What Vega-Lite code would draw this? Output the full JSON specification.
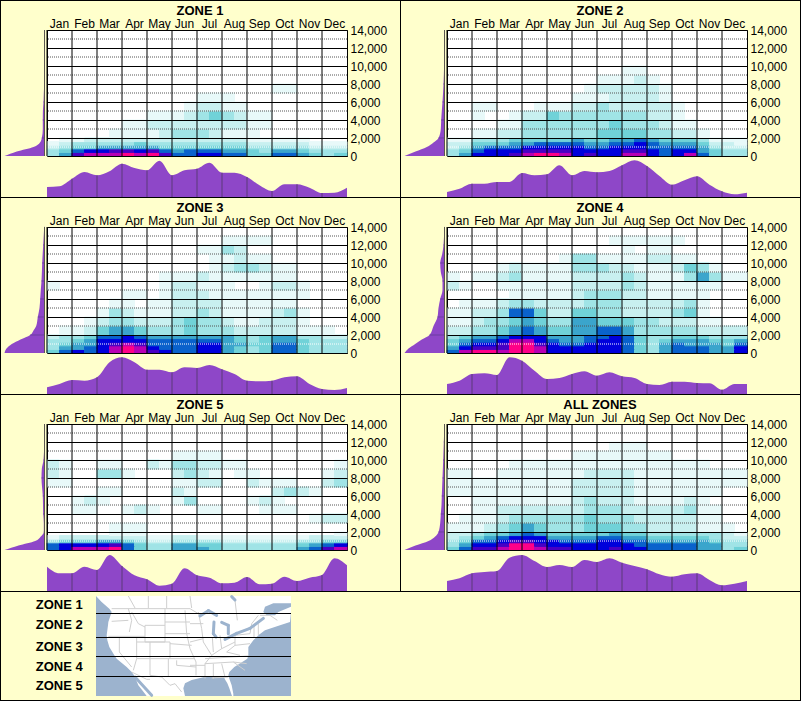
{"$schema":"https://vega.github.io/schema/vega-lite/v6.json","background":"#FFFFCC","padding":0,"autosize":{"type":"pad"},"columns":9,"spacing":0,"bounds":"flush","align":"each",
"config":{"numberFormat":",","view":{"stroke":null},"scale":{"round":false},"range":{"ordinal":["#E8F9F9","#C8F0F0","#A0E4E6","#70D2D8","#3BA5CC","#0A62CC","#0000DC","#4800C4","#B800B4","#FF0088"]},"axis":{"labelFont":"Liberation Sans","labelFontSize":12,"labelColor":"#000","domain":false,"ticks":false,"gridColor":"#000","gridOpacity":1},"title":{"font":"Liberation Sans","fontSize":13,"fontWeight":"bold","color":"#000","anchor":"middle","offset":-1.4,"dx":3}},
"datasets":{"none":[],
"months":[{"m":"Jan"},{"m":"Feb"},{"m":"Mar"},{"m":"Apr"},{"m":"May"},{"m":"Jun"},{"m":"Jul"},{"m":"Aug"},{"m":"Sep"},{"m":"Oct"},{"m":"Nov"},{"m":"Dec"}],
"dark":[{"v":3000},{"v":5000},{"v":7000},{"v":9000},{"v":11000},{"v":13000}],
"white":[{"v":1000}],
"heat":[
{"z":1,"a":0,"b":400,"c":[3,5,8,9,9,9,10,9,10,8,6,6,7,7,6,6,4,4,6,6,5,4,3,4]},
{"z":1,"a":400,"b":800,"c":[3,4,6,7,7,8,8,7,8,6,5,6,6,6,5,5,4,3,5,5,4,3,3,3]},
{"z":1,"a":800,"b":1200,"c":[2,3,4,4,5,5,5,5,5,4,4,4,4,4,4,4,3,3,3,3,3,2,2,2]},
{"z":1,"a":1200,"b":1600,"c":[1,2,3,3,3,3,3,4,3,3,3,3,3,3,3,3,2,2,2,2,2,1,1,1]},
{"z":1,"a":1600,"b":2000,"c":[0,1,1,2,2,2,2,2,2,2,2,2,2,2,2,2,1,1,1,1,1,0,0,0]},
{"z":1,"a":2000,"b":3000,"c":[0,0,0,0,0,1,1,1,1,2,3,3,3,2,1,1,1,0,0,0,0,0,0,0]},
{"z":1,"a":3000,"b":4000,"c":[0,0,0,0,0,0,1,1,2,2,2,2,2,2,2,2,1,1,0,0,0,0,0,0]},
{"z":1,"a":4000,"b":5000,"c":[0,0,0,0,0,0,0,0,1,1,1,2,3,4,3,2,1,1,0,0,0,0,0,0]},
{"z":1,"a":5000,"b":6000,"c":[0,0,0,0,0,0,0,0,0,0,0,1,2,2,1,1,0,0,0,0,0,0,0,0]},
{"z":1,"a":6000,"b":7000,"c":[0,0,0,0,0,0,0,0,0,0,0,0,1,1,1,0,0,0,0,0,0,0,0,0]},
{"z":1,"a":7000,"b":8000,"c":[0,0,0,0,0,0,0,0,0,0,0,0,0,0,0,0,0,0,1,1,0,0,0,0]},
{"z":2,"a":0,"b":400,"c":[3,5,7,7,7,8,9,10,10,9,7,8,7,7,9,9,7,6,7,9,6,4,3,3]},
{"z":2,"a":400,"b":800,"c":[3,4,6,7,7,7,8,8,8,8,7,7,7,7,8,8,7,6,7,7,5,4,3,3]},
{"z":2,"a":800,"b":1200,"c":[2,3,5,6,6,6,7,7,7,7,7,6,6,7,7,7,6,6,6,6,5,3,2,2]},
{"z":2,"a":1200,"b":1600,"c":[2,2,4,4,4,5,5,6,6,6,6,5,5,6,6,7,6,5,5,5,4,2,2,1]},
{"z":2,"a":1600,"b":2000,"c":[1,1,3,3,3,4,4,4,4,4,5,4,4,5,5,6,5,4,4,4,3,1,1,1]},
{"z":2,"a":2000,"b":3000,"c":[0,0,1,1,2,2,3,3,3,3,3,3,4,4,4,4,3,3,2,2,1,0,0,0]},
{"z":2,"a":3000,"b":4000,"c":[0,0,0,0,1,1,3,3,3,3,3,3,3,4,3,3,3,2,1,1,0,0,0,0]},
{"z":2,"a":4000,"b":5000,"c":[0,0,1,0,0,1,2,2,4,3,3,3,3,3,3,3,2,2,1,0,0,0,0,0]},
{"z":2,"a":5000,"b":6000,"c":[0,0,1,1,0,0,0,1,1,1,2,2,3,2,2,2,2,2,1,0,0,0,0,0]},
{"z":2,"a":6000,"b":7000,"c":[0,0,0,0,0,0,0,0,0,0,1,1,1,2,2,2,2,1,0,0,0,0,0,0]},
{"z":2,"a":7000,"b":8000,"c":[0,0,0,0,0,0,0,0,0,0,0,1,2,2,2,2,2,1,0,0,0,0,0,0]},
{"z":2,"a":8000,"b":9000,"c":[0,0,0,0,0,0,0,0,0,0,0,0,1,1,1,2,1,0,0,0,0,0,0,0]},
{"z":2,"a":9000,"b":10000,"c":[0,0,0,0,0,0,0,0,0,0,0,0,0,0,1,1,0,0,0,0,0,0,0,0]},
{"z":3,"a":0,"b":400,"c":[4,6,7,6,7,9,10,9,8,7,6,6,7,7,5,4,3,4,6,6,4,3,3,3]},
{"z":3,"a":400,"b":800,"c":[3,5,5,6,7,9,10,9,7,6,6,6,7,7,5,4,3,4,6,6,4,3,3,3]},
{"z":3,"a":800,"b":1200,"c":[3,4,5,5,7,8,9,8,6,6,6,6,7,7,5,5,4,4,6,6,4,3,3,3]},
{"z":3,"a":1200,"b":1600,"c":[3,3,4,5,7,7,7,7,6,6,6,6,6,6,5,4,3,4,5,5,4,3,3,3]},
{"z":3,"a":1600,"b":2000,"c":[2,3,3,4,6,6,7,6,5,5,5,5,5,5,5,4,3,4,5,5,3,3,2,2]},
{"z":3,"a":2000,"b":3000,"c":[0,1,1,2,4,5,5,4,3,3,3,4,3,3,3,2,2,2,2,2,1,1,1,0]},
{"z":3,"a":3000,"b":4000,"c":[0,0,0,1,2,3,3,2,2,2,3,4,3,3,2,1,1,2,2,2,1,0,0,0]},
{"z":3,"a":4000,"b":5000,"c":[0,0,0,0,1,3,2,1,1,1,2,2,3,2,1,1,1,1,2,3,1,0,0,0]},
{"z":3,"a":5000,"b":6000,"c":[0,0,0,0,0,1,1,0,1,1,2,2,2,2,1,1,1,1,1,1,0,0,0,0]},
{"z":3,"a":6000,"b":7000,"c":[0,0,0,0,0,0,1,1,0,1,2,2,2,1,1,1,1,1,1,1,1,0,0,0]},
{"z":3,"a":7000,"b":8000,"c":[1,0,0,0,0,0,0,0,0,1,2,2,1,1,1,0,0,1,2,2,1,0,0,0]},
{"z":3,"a":8000,"b":9000,"c":[0,0,0,0,0,0,0,0,0,1,1,1,2,1,1,1,1,1,1,1,0,0,0,0]},
{"z":3,"a":9000,"b":10000,"c":[0,0,0,0,0,0,0,0,0,0,0,0,0,1,2,3,3,2,1,1,0,0,0,0]},
{"z":3,"a":10000,"b":11000,"c":[0,0,0,0,0,0,0,0,0,0,0,0,0,1,1,2,1,1,0,0,0,0,0,0]},
{"z":3,"a":11000,"b":12000,"c":[0,0,0,0,0,0,0,0,0,0,0,0,1,1,3,2,0,0,0,0,0,0,0,0]},
{"z":3,"a":12000,"b":13000,"c":[0,0,0,0,0,0,0,0,0,0,0,0,0,0,1,1,1,1,0,0,0,0,0,0]},
{"z":4,"a":0,"b":400,"c":[6,9,10,10,9,10,10,9,7,7,7,7,7,7,6,4,3,5,6,6,6,5,5,7]},
{"z":4,"a":400,"b":800,"c":[5,7,8,8,8,10,10,9,7,7,7,7,7,7,6,4,3,5,6,6,6,5,5,7]},
{"z":4,"a":800,"b":1200,"c":[4,6,7,7,8,10,10,8,7,6,6,7,7,7,6,4,3,5,6,5,5,5,4,6]},
{"z":4,"a":1200,"b":1600,"c":[4,5,6,6,7,9,9,7,6,5,5,6,7,7,6,4,3,4,5,5,5,4,4,5]},
{"z":4,"a":1600,"b":2000,"c":[3,4,5,5,6,7,7,7,5,5,5,6,6,7,6,4,3,3,4,4,4,3,3,3]},
{"z":4,"a":2000,"b":3000,"c":[2,2,3,3,4,5,6,5,4,4,5,5,6,6,5,3,3,3,3,3,2,2,2,2]},
{"z":4,"a":3000,"b":4000,"c":[1,1,2,3,3,4,5,4,3,3,5,5,4,4,4,3,3,2,2,2,1,1,0,0]},
{"z":4,"a":4000,"b":5000,"c":[1,1,2,2,3,6,6,4,2,2,4,4,3,3,2,2,2,2,3,4,1,0,0,0]},
{"z":4,"a":5000,"b":6000,"c":[0,1,1,1,2,3,3,2,2,2,2,3,3,3,2,2,2,2,2,3,1,0,0,0]},
{"z":4,"a":6000,"b":7000,"c":[0,0,0,0,0,1,1,1,1,1,2,3,3,3,2,2,1,1,1,1,1,0,0,0]},
{"z":4,"a":7000,"b":8000,"c":[2,1,0,0,1,1,1,1,1,1,2,2,2,2,3,2,1,1,1,1,1,1,0,0]},
{"z":4,"a":8000,"b":9000,"c":[1,0,1,1,2,3,1,1,1,1,2,2,2,2,3,2,1,1,1,3,5,3,1,1]},
{"z":4,"a":9000,"b":10000,"c":[0,0,0,0,1,2,1,1,1,1,3,3,3,2,2,1,1,1,2,4,3,1,0,0]},
{"z":4,"a":10000,"b":11000,"c":[0,0,0,0,0,0,0,0,0,1,3,3,1,1,1,1,2,2,1,1,0,0,0,0]},
{"z":4,"a":11000,"b":12000,"c":[0,0,0,0,0,0,0,0,0,0,0,0,0,0,1,0,1,1,0,0,0,0,0,0]},
{"z":4,"a":12000,"b":13000,"c":[0,0,0,0,0,0,0,0,0,0,0,0,0,1,1,1,1,1,1,0,0,0,0,0]},
{"z":5,"a":0,"b":400,"c":[6,7,9,9,9,10,6,4,3,3,5,5,5,4,3,3,3,3,3,3,5,6,8,9]},
{"z":5,"a":400,"b":800,"c":[6,7,7,7,7,8,6,4,3,3,5,5,4,4,3,3,3,3,3,3,4,5,6,7]},
{"z":5,"a":800,"b":1200,"c":[3,4,4,4,5,5,4,3,2,2,3,3,3,3,2,2,2,2,2,2,3,3,4,4]},
{"z":5,"a":1200,"b":1600,"c":[1,2,2,2,2,2,2,2,1,1,2,2,1,1,1,1,1,1,1,1,1,2,2,2]},
{"z":5,"a":1600,"b":2000,"c":[0,0,0,0,0,1,1,1,0,0,0,0,0,0,0,0,0,0,0,0,0,0,0,1]},
{"z":5,"a":2000,"b":3000,"c":[0,0,0,0,0,1,1,1,0,0,0,0,0,0,0,0,0,0,0,0,0,0,0,0]},
{"z":5,"a":3000,"b":4000,"c":[0,0,0,0,0,0,0,0,0,0,0,0,0,0,0,0,0,0,0,0,0,1,2,2]},
{"z":5,"a":4000,"b":5000,"c":[0,0,1,1,0,0,1,2,1,0,0,0,1,1,0,0,0,1,1,1,0,0,0,0]},
{"z":5,"a":5000,"b":6000,"c":[0,0,1,2,1,0,0,0,0,0,1,3,0,0,0,0,1,2,1,0,0,0,0,0]},
{"z":5,"a":6000,"b":7000,"c":[0,0,0,0,1,1,0,0,0,0,2,1,0,0,0,0,0,0,2,3,2,1,0,0]},
{"z":5,"a":7000,"b":8000,"c":[1,1,0,0,0,0,0,0,0,0,1,1,2,2,0,0,2,1,1,1,0,0,2,3]},
{"z":5,"a":8000,"b":9000,"c":[2,1,0,0,3,3,1,0,0,0,2,3,2,1,0,1,1,0,0,0,0,0,1,2]},
{"z":5,"a":9000,"b":10000,"c":[2,1,0,0,1,1,0,0,2,1,3,3,2,2,1,1,0,0,0,0,0,0,0,1]},
{"z":5,"a":10000,"b":11000,"c":[0,0,0,0,0,0,0,0,0,0,1,1,1,1,0,0,0,0,0,0,0,0,0,0]},
{"z":6,"a":0,"b":400,"c":[4,6,8,8,9,10,10,9,8,8,7,7,7,8,7,7,6,6,6,6,5,5,3,4]},
{"z":6,"a":400,"b":800,"c":[3,5,7,7,8,10,10,8,7,7,7,7,7,7,7,6,6,6,6,6,5,5,3,3]},
{"z":6,"a":800,"b":1200,"c":[3,4,6,6,7,8,8,7,7,6,6,6,7,7,6,6,5,5,5,5,5,4,3,3]},
{"z":6,"a":1200,"b":1600,"c":[2,3,4,5,6,7,7,7,5,5,5,5,6,6,5,5,4,4,4,4,4,3,2,2]},
{"z":6,"a":1600,"b":2000,"c":[2,2,3,4,4,5,6,5,4,4,4,4,4,5,4,4,3,3,3,3,3,3,2,1]},
{"z":6,"a":2000,"b":3000,"c":[1,1,1,2,3,4,5,4,3,3,3,4,4,4,3,3,2,2,2,2,1,1,1,0]},
{"z":6,"a":3000,"b":4000,"c":[0,1,1,1,2,3,3,3,3,3,3,4,3,3,3,2,2,2,2,2,1,1,0,0]},
{"z":6,"a":4000,"b":5000,"c":[0,0,1,1,2,2,2,2,2,2,2,3,3,3,2,2,2,2,2,3,1,1,0,0]},
{"z":6,"a":5000,"b":6000,"c":[0,0,1,1,1,1,1,1,1,1,2,3,2,2,2,1,1,1,1,2,1,0,0,0]},
{"z":6,"a":6000,"b":7000,"c":[1,1,1,1,1,1,1,1,1,1,2,2,2,2,2,1,1,1,1,1,1,1,0,0]},
{"z":6,"a":7000,"b":8000,"c":[1,1,1,1,1,1,1,1,1,1,2,2,2,2,2,1,1,1,1,1,1,1,1,1]},
{"z":6,"a":8000,"b":9000,"c":[1,1,0,0,1,1,1,1,1,1,1,2,2,2,2,1,1,1,1,1,1,1,1,1]},
{"z":6,"a":9000,"b":10000,"c":[0,0,0,0,0,1,1,1,1,1,1,1,1,1,1,1,1,1,1,1,1,0,0,0]},
{"z":6,"a":10000,"b":11000,"c":[0,0,0,0,0,0,0,0,0,0,1,1,1,1,1,1,1,1,0,0,0,0,0,0]},
{"z":6,"a":11000,"b":12000,"c":[0,0,0,0,0,0,0,0,0,0,0,0,0,1,1,1,0,0,0,0,0,0,0,0]}
],
"left":[
{"z":1,"v":0,"w":40},{"z":1,"v":500,"w":27.7},{"z":1,"v":1000,"w":11},{"z":1,"v":1500,"w":4.5},{"z":1,"v":2000,"w":2.7},{"z":1,"v":3000,"w":1.7},{"z":1,"v":4000,"w":1.7},{"z":1,"v":5000,"w":1.6},{"z":1,"v":6000,"w":1},{"z":1,"v":7000,"w":0.7},{"z":1,"v":8000,"w":0.3},{"z":1,"v":10000,"w":0.1},{"z":1,"v":14000,"w":0},
{"z":2,"v":0,"w":40},{"z":2,"v":500,"w":29},{"z":2,"v":1000,"w":17.7},{"z":2,"v":1500,"w":11},{"z":2,"v":2000,"w":6},{"z":2,"v":3000,"w":3.7},{"z":2,"v":4000,"w":3.3},{"z":2,"v":5000,"w":2.7},{"z":2,"v":6000,"w":2},{"z":2,"v":8000,"w":1},{"z":2,"v":10000,"w":0.4},{"z":2,"v":12000,"w":0.1},{"z":2,"v":14000,"w":0},
{"z":3,"v":0,"w":40},{"z":3,"v":500,"w":38},{"z":3,"v":1000,"w":32.7},{"z":3,"v":1500,"w":24},{"z":3,"v":2000,"w":14.3},{"z":3,"v":2500,"w":11},{"z":3,"v":3000,"w":8.3},{"z":3,"v":4000,"w":6.7},{"z":3,"v":5000,"w":5},{"z":3,"v":6000,"w":4.3},{"z":3,"v":7000,"w":3.7},{"z":3,"v":8000,"w":3},{"z":3,"v":10000,"w":2.3},{"z":3,"v":12000,"w":1.3},{"z":3,"v":14000,"w":0.3},
{"z":4,"v":0,"w":40},{"z":4,"v":500,"w":36},{"z":4,"v":1000,"w":29.3},{"z":4,"v":1500,"w":22.7},{"z":4,"v":2000,"w":15},{"z":4,"v":3000,"w":11},{"z":4,"v":4000,"w":7},{"z":4,"v":5000,"w":6},{"z":4,"v":6000,"w":4.3},{"z":4,"v":7000,"w":2},{"z":4,"v":8000,"w":2},{"z":4,"v":9000,"w":3.7},{"z":4,"v":10000,"w":4.3},{"z":4,"v":11000,"w":2.3},{"z":4,"v":12000,"w":1},{"z":4,"v":14000,"w":0.2},
{"z":5,"v":0,"w":40},{"z":5,"v":500,"w":26},{"z":5,"v":1000,"w":9.3},{"z":5,"v":1500,"w":3.7},{"z":5,"v":2000,"w":0.7},{"z":5,"v":3000,"w":0.7},{"z":5,"v":4000,"w":1.3},{"z":5,"v":6000,"w":1.7},{"z":5,"v":8000,"w":3},{"z":5,"v":9000,"w":2.7},{"z":5,"v":10000,"w":1},{"z":5,"v":12000,"w":0.2},{"z":5,"v":14000,"w":0},
{"z":6,"v":0,"w":40},{"z":6,"v":500,"w":29},{"z":6,"v":1000,"w":16},{"z":6,"v":1500,"w":9.3},{"z":6,"v":2000,"w":6},{"z":6,"v":3000,"w":4.3},{"z":6,"v":4000,"w":3.7},{"z":6,"v":5000,"w":3},{"z":6,"v":6000,"w":2.7},{"z":6,"v":8000,"w":2},{"z":6,"v":10000,"w":1.3},{"z":6,"v":12000,"w":0.7},{"z":6,"v":14000,"w":0}
],
"under":[
{"z":1,"m":0,"h":10},{"z":1,"m":0.5,"h":10.7},{"z":1,"m":1,"h":18.3},{"z":1,"m":1.5,"h":25},{"z":1,"m":2,"h":21.7},{"z":1,"m":2.5,"h":25.7},{"z":1,"m":3,"h":33.3},{"z":1,"m":3.5,"h":29},{"z":1,"m":4,"h":26.7},{"z":1,"m":4.5,"h":36.3},{"z":1,"m":5,"h":21.7},{"z":1,"m":5.5,"h":26.7},{"z":1,"m":6,"h":28.3},{"z":1,"m":6.5,"h":34.3},{"z":1,"m":7,"h":24.3},{"z":1,"m":7.5,"h":24.3},{"z":1,"m":8,"h":20},{"z":1,"m":8.5,"h":11.7},{"z":1,"m":9,"h":6},{"z":1,"m":9.5,"h":12.7},{"z":1,"m":10,"h":12.7},{"z":1,"m":10.5,"h":9.3},{"z":1,"m":11,"h":4},{"z":1,"m":11.5,"h":4.3},{"z":1,"m":12,"h":9.3},
{"z":2,"m":0,"h":5},{"z":2,"m":0.5,"h":8.3},{"z":2,"m":1,"h":13.3},{"z":2,"m":1.5,"h":13.3},{"z":2,"m":2,"h":15},{"z":2,"m":2.5,"h":15},{"z":2,"m":3,"h":24},{"z":2,"m":3.5,"h":21.7},{"z":2,"m":4,"h":22.7},{"z":2,"m":4.5,"h":31.7},{"z":2,"m":5,"h":21.7},{"z":2,"m":5.5,"h":26},{"z":2,"m":6,"h":24.7},{"z":2,"m":6.5,"h":26},{"z":2,"m":7,"h":31.7},{"z":2,"m":7.5,"h":36.7},{"z":2,"m":8,"h":31},{"z":2,"m":8.5,"h":21},{"z":2,"m":9,"h":12.3},{"z":2,"m":9.5,"h":16.7},{"z":2,"m":10,"h":20.7},{"z":2,"m":10.5,"h":12.3},{"z":2,"m":11,"h":5.7},{"z":2,"m":11.5,"h":2.7},{"z":2,"m":12,"h":4.3},
{"z":3,"m":0,"h":6.7},{"z":3,"m":0.5,"h":10},{"z":3,"m":1,"h":14},{"z":3,"m":1.5,"h":13.3},{"z":3,"m":2,"h":16.7},{"z":3,"m":2.5,"h":31.7},{"z":3,"m":3,"h":36.7},{"z":3,"m":3.5,"h":31.7},{"z":3,"m":4,"h":24.3},{"z":3,"m":4.5,"h":24.3},{"z":3,"m":5,"h":21.7},{"z":3,"m":5.5,"h":26.7},{"z":3,"m":6,"h":26},{"z":3,"m":6.5,"h":29},{"z":3,"m":7,"h":24.7},{"z":3,"m":7.5,"h":20},{"z":3,"m":8,"h":13.3},{"z":3,"m":8.5,"h":12.7},{"z":3,"m":9,"h":13.3},{"z":3,"m":9.5,"h":16.7},{"z":3,"m":10,"h":17.7},{"z":3,"m":10.5,"h":10},{"z":3,"m":11,"h":5},{"z":3,"m":11.5,"h":4},{"z":3,"m":12,"h":6},
{"z":4,"m":0,"h":10},{"z":4,"m":0.5,"h":13.3},{"z":4,"m":1,"h":20},{"z":4,"m":1.5,"h":20.7},{"z":4,"m":2,"h":19},{"z":4,"m":2.5,"h":36.7},{"z":4,"m":3,"h":33.3},{"z":4,"m":3.5,"h":23.3},{"z":4,"m":4,"h":15},{"z":4,"m":4.5,"h":16},{"z":4,"m":5,"h":20},{"z":4,"m":5.5,"h":22.7},{"z":4,"m":6,"h":18.3},{"z":4,"m":6.5,"h":21.7},{"z":4,"m":7,"h":17.7},{"z":4,"m":7.5,"h":16},{"z":4,"m":8,"h":10},{"z":4,"m":8.5,"h":9},{"z":4,"m":9,"h":12.3},{"z":4,"m":9.5,"h":12.3},{"z":4,"m":10,"h":11},{"z":4,"m":10.5,"h":10.7},{"z":4,"m":11,"h":4.3},{"z":4,"m":11.5,"h":10},{"z":4,"m":12,"h":10},
{"z":5,"m":0,"h":24.3},{"z":5,"m":0.5,"h":17.7},{"z":5,"m":1,"h":17.7},{"z":5,"m":1.5,"h":24.3},{"z":5,"m":2,"h":21},{"z":5,"m":2.5,"h":36},{"z":5,"m":3,"h":25},{"z":5,"m":3.5,"h":15.7},{"z":5,"m":4,"h":11.7},{"z":5,"m":4.5,"h":5.3},{"z":5,"m":5,"h":7.3},{"z":5,"m":5.5,"h":22.7},{"z":5,"m":6,"h":15.7},{"z":5,"m":6.5,"h":13.3},{"z":5,"m":7,"h":7.7},{"z":5,"m":7.5,"h":8.3},{"z":5,"m":8,"h":14},{"z":5,"m":8.5,"h":6.7},{"z":5,"m":9,"h":7.3},{"z":5,"m":9.5,"h":14.3},{"z":5,"m":10,"h":10},{"z":5,"m":10.5,"h":13.3},{"z":5,"m":11,"h":16},{"z":5,"m":11.5,"h":32.7},{"z":5,"m":12,"h":25.7},
{"z":6,"m":0,"h":10},{"z":6,"m":0.5,"h":12.7},{"z":6,"m":1,"h":17.7},{"z":6,"m":1.5,"h":19},{"z":6,"m":2,"h":20},{"z":6,"m":2.5,"h":33.3},{"z":6,"m":3,"h":36},{"z":6,"m":3.5,"h":30},{"z":6,"m":4,"h":24},{"z":6,"m":4.5,"h":26},{"z":6,"m":5,"h":24},{"z":6,"m":5.5,"h":31},{"z":6,"m":6,"h":29},{"z":6,"m":6.5,"h":32.7},{"z":6,"m":7,"h":28.3},{"z":6,"m":7.5,"h":25},{"z":6,"m":8,"h":21.7},{"z":6,"m":8.5,"h":16.7},{"z":6,"m":9,"h":14.3},{"z":6,"m":9.5,"h":16.7},{"z":6,"m":10,"h":17.7},{"z":6,"m":10.5,"h":11},{"z":6,"m":11,"h":5.7},{"z":6,"m":11.5,"h":7.3},{"z":6,"m":12,"h":10}
],
"land":[{"y":18,"x":288,"u":873},{"y":36,"x":305,"u":873},{"y":56,"x":328,"u":873},{"y":66,"x":335,"u":873},{"y":96,"x":325,"u":870},{"y":106,"x":324,"u":840},{"y":121,"x":322,"u":795},{"y":136,"x":320,"u":775},{"y":151,"x":322,"u":760},{"y":171,"x":328,"u":745},{"y":196,"x":343,"u":745},{"y":206,"x":350,"u":742},{"y":231,"x":380,"u":703},{"y":246,"x":395,"u":688},{"y":256,"x":402,"u":685},{"y":266,"x":407,"u":688},{"y":286,"x":415,"u":695},{"y":311,"x":435,"u":700},{"y":318,"x":440,"u":700}],
"gulf":[{"y":260,"x":640,"u":640},{"y":262,"x":610,"u":672},{"y":270,"x":575,"u":676},{"y":280,"x":555,"u":682},{"y":295,"x":550,"u":688},{"y":318,"x":555,"u":696}],
"stlawrence":[{"y":40,"x":820,"u":873},{"y":50,"x":795,"u":873},{"y":66,"x":790,"u":835},{"y":76,"x":800,"u":825}],
"lakes":[{"x":600,"y":78,"u":625,"v":62},{"x":625,"y":62,"u":650,"v":76},{"x":642,"y":96,"u":640,"v":131},{"x":640,"y":131,"u":648,"v":141},{"x":665,"y":97,"u":685,"v":106},{"x":685,"y":106,"u":685,"v":131},{"x":675,"y":148,"u":710,"v":130},{"x":710,"y":130,"u":750,"v":115},{"x":750,"y":115,"u":790,"v":85},{"x":695,"y":20,"u":705,"v":30},{"x":405,"y":261,"u":455,"v":316}],
"borders":[{"x":335,"y":56,"u":570,"v":56},{"x":570,"y":56,"u":600,"v":74},{"x":385,"y":18,"u":405,"v":54},{"x":445,"y":18,"u":445,"v":54},{"x":500,"y":18,"u":500,"v":54},{"x":570,"y":18,"u":575,"v":54},{"x":335,"y":94,"u":385,"v":91},{"x":385,"y":56,"u":395,"v":91},{"x":395,"y":91,"u":388,"v":126},{"x":325,"y":139,"u":435,"v":139},{"x":410,"y":141,"u":410,"v":206},{"x":358,"y":141,"u":358,"v":186},{"x":358,"y":186,"u":395,"v":231},{"x":395,"y":66,"u":415,"v":101},{"x":415,"y":101,"u":435,"v":111},{"x":435,"y":106,"u":495,"v":106},{"x":435,"y":106,"u":435,"v":156},{"x":435,"y":156,"u":495,"v":156},{"x":495,"y":56,"u":495,"v":156},{"x":410,"y":156,"u":510,"v":156},{"x":450,"y":156,"u":450,"v":206},{"x":510,"y":156,"u":510,"v":206},{"x":410,"y":206,"u":510,"v":206},{"x":450,"y":206,"u":450,"v":256},{"x":505,"y":206,"u":505,"v":261},{"x":410,"y":206,"u":400,"v":241},{"x":395,"y":246,"u":440,"v":268},{"x":440,"y":268,"u":450,"v":268},{"x":450,"y":256,"u":485,"v":261},{"x":485,"y":261,"u":510,"v":286},{"x":510,"y":286,"u":525,"v":281},{"x":525,"y":281,"u":545,"v":306},{"x":495,"y":96,"u":570,"v":96},{"x":495,"y":131,"u":570,"v":131},{"x":510,"y":161,"u":575,"v":166},{"x":510,"y":206,"u":585,"v":206},{"x":530,"y":211,"u":530,"v":226},{"x":530,"y":226,"u":588,"v":231},{"x":555,"y":61,"u":560,"v":131},{"x":560,"y":131,"u":570,"v":176},{"x":570,"y":176,"u":588,"v":216},{"x":588,"y":216,"u":588,"v":256},{"x":570,"y":101,"u":610,"v":101},{"x":570,"y":156,"u":610,"v":146},{"x":595,"y":66,"u":605,"v":116},{"x":605,"y":116,"u":610,"v":156},{"x":610,"y":156,"u":635,"v":196},{"x":635,"y":196,"u":615,"v":221},{"x":615,"y":221,"u":615,"v":266},{"x":637,"y":141,"u":640,"v":186},{"x":660,"y":136,"u":665,"v":176},{"x":635,"y":196,"u":665,"v":176},{"x":665,"y":176,"u":705,"v":156},{"x":705,"y":131,"u":705,"v":166},{"x":705,"y":136,"u":750,"v":131},{"x":705,"y":166,"u":750,"v":161},{"x":615,"y":206,"u":745,"v":198},{"x":615,"y":221,"u":700,"v":216},{"x":700,"y":216,"u":740,"v":221},{"x":640,"y":221,"u":640,"v":266},{"x":665,"y":221,"u":675,"v":261},{"x":700,"y":216,"u":735,"v":241},{"x":635,"y":264,"u":685,"v":261},{"x":570,"y":226,"u":615,"v":226},{"x":705,"y":166,"u":680,"v":186},{"x":680,"y":186,"u":720,"v":196},{"x":750,"y":131,"u":755,"v":101},{"x":755,"y":101,"u":775,"v":76},{"x":780,"y":76,"u":810,"v":76},{"x":810,"y":76,"u":832,"v":91},{"x":775,"y":101,"u":775,"v":136},{"x":762,"y":106,"u":762,"v":141},{"x":705,"y":31,"u":712,"v":91}],
"zonelines":[{"x":288,"u":873,"y":70.5,"v":70.5},{"x":288,"u":873,"y":142.5,"v":142.5},{"x":288,"u":873,"y":199.5,"v":199.5},{"x":288,"u":873,"y":259.5,"v":259.5}],
"names":[{"t":"ZONE 1","x":248,"y":46},{"t":"ZONE 2","x":248,"y":104},{"t":"ZONE 3","x":248,"y":172},{"t":"ZONE 4","x":248,"y":230},{"t":"ZONE 5","x":248,"y":288}]
},
"concat":[
{"data":{"name":"none"},"mark":"point","width":1,"height":1,"view":{"fill":"#000"}},{"data":{"name":"none"},"mark":"point","width":46,"height":1,"view":{"fill":"#000"}},{"data":{"name":"none"},"mark":"point","width":300,"height":1,"view":{"fill":"#000"}},{"data":{"name":"none"},"mark":"point","width":53,"height":1,"view":{"fill":"#000"}},{"data":{"name":"none"},"mark":"point","width":1,"height":1,"view":{"fill":"#000"}},{"data":{"name":"none"},"mark":"point","width":46,"height":1,"view":{"fill":"#000"}},{"data":{"name":"none"},"mark":"point","width":300,"height":1,"view":{"fill":"#000"}},{"data":{"name":"none"},"mark":"point","width":53,"height":1,"view":{"fill":"#000"}},{"data":{"name":"none"},"mark":"point","width":1,"height":1,"view":{"fill":"#000"}},
{"data":{"name":"none"},"mark":"point","width":1,"height":29,"view":{"fill":"#000"}},{"data":{"name":"none"},"mark":"point","width":1,"height":1},{"data":{"name":"none"},"mark":"point","width":1,"height":1},{"data":{"name":"none"},"mark":"point","width":1,"height":1},{"data":{"name":"none"},"mark":"point","width":1,"height":29,"view":{"fill":"#000"}},{"data":{"name":"none"},"mark":"point","width":1,"height":1},{"data":{"name":"none"},"mark":"point","width":1,"height":1},{"data":{"name":"none"},"mark":"point","width":1,"height":1},{"data":{"name":"none"},"mark":"point","width":1,"height":29,"view":{"fill":"#000"}},
{"data":{"name":"none"},"mark":"point","width":1,"height":126,"view":{"fill":"#000"}},
{"width":46,"height":126,"data":{"name":"left"},"transform":[{"filter":"datum.z==1"}],"layer":[{"mark":{"type":"area","orient":"horizontal","interpolate":"monotone","color":"#8E47C8"},"encoding":{"x":{"field":"w","type":"quantitative","stack":null,"axis":null,"scale":{"domain":[43.5,-2.5],"nice":false}},"x2":{"datum":0},"y":{"field":"v","type":"quantitative","axis":null,"scale":{"domain":[0,14000]}}}},{"transform":[{"filter":"datum.v>0&&datum.v%2000==0"}],"mark":{"type":"rule","color":"#6a3fa0"},"encoding":{"x":{"field":"w","type":"quantitative","axis":null},"x2":{"datum":0},"y":{"field":"v","type":"quantitative","axis":null}}},{"mark":{"type":"rule","color":"#5b5650"},"encoding":{"x":{"datum":0,"type":"quantitative","axis":null}}}]},
{"width":300,"height":126,"view":{"fill":"#fff","stroke":"#000"},"title":"ZONE 1","resolve":{"scale":{"x":"independent"}},"layer":[{"data":{"name":"heat"},"transform":[{"filter":"datum.z==1"},{"flatten":["c"]},{"window":[{"op":"row_number","as":"i"}],"groupby":["a"]},{"filter":"datum.c>0"}],"mark":{"type":"rect","strokeWidth":1},"encoding":{"x":{"field":"i","type":"ordinal","axis":null,"scale":{"paddingInner":0,"paddingOuter":0}},"y":{"field":"a","type":"quantitative","scale":{"domain":[0,14000]},"axis":{"title":null,"orient":"right","values":[0,2000,4000,6000,8000,10000,12000,14000],"labelExpr":"format(datum.value,',')","grid":true,"zindex":1,"labelPadding":3}},"y2":{"field":"b"},"color":{"field":"c","type":"ordinal","scale":{"domain":[1,2,3,4,5,6,7,8,9,10]},"legend":null},"stroke":{"field":"c","type":"ordinal","scale":{"domain":[1,2,3,4,5,6,7,8,9,10]},"legend":null}}},{"data":{"name":"dark"},"mark":{"type":"rule","stroke":"#555","strokeDash":[1,1]},"encoding":{"y":{"field":"v","type":"quantitative","axis":{"title":null,"orient":"right","values":[0,2000,4000,6000,8000,10000,12000,14000],"labelExpr":"format(datum.value,',')","grid":true,"zindex":1,"labelPadding":3}}}},{"data":{"name":"white"},"mark":{"type":"rule","stroke":"#fff","strokeDash":[1,1]},"encoding":{"y":{"field":"v","type":"quantitative","axis":{"title":null,"orient":"right","values":[0,2000,4000,6000,8000,10000,12000,14000],"labelExpr":"format(datum.value,',')","grid":true,"zindex":1,"labelPadding":3}}}},{"data":{"name":"months"},"mark":{"type":"rule","stroke":"#000"},"encoding":{"x":{"field":"m","type":"nominal","sort":null,"bandPosition":0,"scale":{"paddingInner":0,"paddingOuter":0},"axis":{"title":null,"orient":"top","labelAngle":0,"labelPadding":0}}}}]},
{"data":{"name":"none"},"mark":"point","width":1,"height":1},
{"data":{"name":"none"},"mark":"point","width":1,"height":126,"view":{"fill":"#000"}},
{"width":46,"height":126,"data":{"name":"left"},"transform":[{"filter":"datum.z==2"}],"layer":[{"mark":{"type":"area","orient":"horizontal","interpolate":"monotone","color":"#8E47C8"},"encoding":{"x":{"field":"w","type":"quantitative","stack":null,"axis":null,"scale":{"domain":[43.5,-2.5],"nice":false}},"x2":{"datum":0},"y":{"field":"v","type":"quantitative","axis":null,"scale":{"domain":[0,14000]}}}},{"transform":[{"filter":"datum.v>0&&datum.v%2000==0"}],"mark":{"type":"rule","color":"#6a3fa0"},"encoding":{"x":{"field":"w","type":"quantitative","axis":null},"x2":{"datum":0},"y":{"field":"v","type":"quantitative","axis":null}}},{"mark":{"type":"rule","color":"#5b5650"},"encoding":{"x":{"datum":0,"type":"quantitative","axis":null}}}]},
{"width":300,"height":126,"view":{"fill":"#fff","stroke":"#000"},"title":"ZONE 2","resolve":{"scale":{"x":"independent"}},"layer":[{"data":{"name":"heat"},"transform":[{"filter":"datum.z==2"},{"flatten":["c"]},{"window":[{"op":"row_number","as":"i"}],"groupby":["a"]},{"filter":"datum.c>0"}],"mark":{"type":"rect","strokeWidth":1},"encoding":{"x":{"field":"i","type":"ordinal","axis":null,"scale":{"paddingInner":0,"paddingOuter":0}},"y":{"field":"a","type":"quantitative","scale":{"domain":[0,14000]},"axis":{"title":null,"orient":"right","values":[0,2000,4000,6000,8000,10000,12000,14000],"labelExpr":"format(datum.value,',')","grid":true,"zindex":1,"labelPadding":3}},"y2":{"field":"b"},"color":{"field":"c","type":"ordinal","scale":{"domain":[1,2,3,4,5,6,7,8,9,10]},"legend":null},"stroke":{"field":"c","type":"ordinal","scale":{"domain":[1,2,3,4,5,6,7,8,9,10]},"legend":null}}},{"data":{"name":"dark"},"mark":{"type":"rule","stroke":"#555","strokeDash":[1,1]},"encoding":{"y":{"field":"v","type":"quantitative","axis":{"title":null,"orient":"right","values":[0,2000,4000,6000,8000,10000,12000,14000],"labelExpr":"format(datum.value,',')","grid":true,"zindex":1,"labelPadding":3}}}},{"data":{"name":"white"},"mark":{"type":"rule","stroke":"#fff","strokeDash":[1,1]},"encoding":{"y":{"field":"v","type":"quantitative","axis":{"title":null,"orient":"right","values":[0,2000,4000,6000,8000,10000,12000,14000],"labelExpr":"format(datum.value,',')","grid":true,"zindex":1,"labelPadding":3}}}},{"data":{"name":"months"},"mark":{"type":"rule","stroke":"#000"},"encoding":{"x":{"field":"m","type":"nominal","sort":null,"bandPosition":0,"scale":{"paddingInner":0,"paddingOuter":0},"axis":{"title":null,"orient":"top","labelAngle":0,"labelPadding":0}}}}]},
{"data":{"name":"none"},"mark":"point","width":1,"height":1},
{"data":{"name":"none"},"mark":"point","width":1,"height":126,"view":{"fill":"#000"}},
{"data":{"name":"none"},"mark":"point","width":1,"height":41,"view":{"fill":"#000"}},
{"data":{"name":"none"},"mark":"point","width":1,"height":1},
{"width":300,"height":41,"data":{"name":"under"},"transform":[{"filter":"datum.z==1"}],"layer":[{"mark":{"type":"area","interpolate":"monotone","color":"#8E47C8"},"encoding":{"x":{"field":"m","type":"quantitative","axis":null,"scale":{"domain":[0,12],"nice":false}},"y":{"field":"h","type":"quantitative","stack":null,"axis":null,"scale":{"domain":[0,41],"nice":false}},"y2":{"datum":0}}},{"transform":[{"filter":"datum.m%1==0&&datum.m>0&&datum.m<12"}],"mark":{"type":"rule","color":"#5a3a78"},"encoding":{"x":{"field":"m","type":"quantitative","axis":null},"y":{"field":"h","type":"quantitative","axis":null},"y2":{"datum":0}}}]},
{"data":{"name":"none"},"mark":"point","width":1,"height":1},
{"data":{"name":"none"},"mark":"point","width":1,"height":41,"view":{"fill":"#000"}},
{"data":{"name":"none"},"mark":"point","width":1,"height":1},
{"width":300,"height":41,"data":{"name":"under"},"transform":[{"filter":"datum.z==2"}],"layer":[{"mark":{"type":"area","interpolate":"monotone","color":"#8E47C8"},"encoding":{"x":{"field":"m","type":"quantitative","axis":null,"scale":{"domain":[0,12],"nice":false}},"y":{"field":"h","type":"quantitative","stack":null,"axis":null,"scale":{"domain":[0,41],"nice":false}},"y2":{"datum":0}}},{"transform":[{"filter":"datum.m%1==0&&datum.m>0&&datum.m<12"}],"mark":{"type":"rule","color":"#5a3a78"},"encoding":{"x":{"field":"m","type":"quantitative","axis":null},"y":{"field":"h","type":"quantitative","axis":null},"y2":{"datum":0}}}]},
{"data":{"name":"none"},"mark":"point","width":1,"height":1},
{"data":{"name":"none"},"mark":"point","width":1,"height":41,"view":{"fill":"#000"}},

{"data":{"name":"none"},"mark":"point","width":1,"height":1,"view":{"fill":"#000"}},{"data":{"name":"none"},"mark":"point","width":46,"height":1,"view":{"fill":"#000"}},{"data":{"name":"none"},"mark":"point","width":300,"height":1,"view":{"fill":"#000"}},{"data":{"name":"none"},"mark":"point","width":53,"height":1,"view":{"fill":"#000"}},{"data":{"name":"none"},"mark":"point","width":1,"height":1,"view":{"fill":"#000"}},{"data":{"name":"none"},"mark":"point","width":46,"height":1,"view":{"fill":"#000"}},{"data":{"name":"none"},"mark":"point","width":300,"height":1,"view":{"fill":"#000"}},{"data":{"name":"none"},"mark":"point","width":53,"height":1,"view":{"fill":"#000"}},{"data":{"name":"none"},"mark":"point","width":1,"height":1,"view":{"fill":"#000"}},
{"data":{"name":"none"},"mark":"point","width":1,"height":29,"view":{"fill":"#000"}},{"data":{"name":"none"},"mark":"point","width":1,"height":1},{"data":{"name":"none"},"mark":"point","width":1,"height":1},{"data":{"name":"none"},"mark":"point","width":1,"height":1},{"data":{"name":"none"},"mark":"point","width":1,"height":29,"view":{"fill":"#000"}},{"data":{"name":"none"},"mark":"point","width":1,"height":1},{"data":{"name":"none"},"mark":"point","width":1,"height":1},{"data":{"name":"none"},"mark":"point","width":1,"height":1},{"data":{"name":"none"},"mark":"point","width":1,"height":29,"view":{"fill":"#000"}},
{"data":{"name":"none"},"mark":"point","width":1,"height":126,"view":{"fill":"#000"}},
{"width":46,"height":126,"data":{"name":"left"},"transform":[{"filter":"datum.z==3"}],"layer":[{"mark":{"type":"area","orient":"horizontal","interpolate":"monotone","color":"#8E47C8"},"encoding":{"x":{"field":"w","type":"quantitative","stack":null,"axis":null,"scale":{"domain":[43.5,-2.5],"nice":false}},"x2":{"datum":0},"y":{"field":"v","type":"quantitative","axis":null,"scale":{"domain":[0,14000]}}}},{"transform":[{"filter":"datum.v>0&&datum.v%2000==0"}],"mark":{"type":"rule","color":"#6a3fa0"},"encoding":{"x":{"field":"w","type":"quantitative","axis":null},"x2":{"datum":0},"y":{"field":"v","type":"quantitative","axis":null}}},{"mark":{"type":"rule","color":"#5b5650"},"encoding":{"x":{"datum":0,"type":"quantitative","axis":null}}}]},
{"width":300,"height":126,"view":{"fill":"#fff","stroke":"#000"},"title":"ZONE 3","resolve":{"scale":{"x":"independent"}},"layer":[{"data":{"name":"heat"},"transform":[{"filter":"datum.z==3"},{"flatten":["c"]},{"window":[{"op":"row_number","as":"i"}],"groupby":["a"]},{"filter":"datum.c>0"}],"mark":{"type":"rect","strokeWidth":1},"encoding":{"x":{"field":"i","type":"ordinal","axis":null,"scale":{"paddingInner":0,"paddingOuter":0}},"y":{"field":"a","type":"quantitative","scale":{"domain":[0,14000]},"axis":{"title":null,"orient":"right","values":[0,2000,4000,6000,8000,10000,12000,14000],"labelExpr":"format(datum.value,',')","grid":true,"zindex":1,"labelPadding":3}},"y2":{"field":"b"},"color":{"field":"c","type":"ordinal","scale":{"domain":[1,2,3,4,5,6,7,8,9,10]},"legend":null},"stroke":{"field":"c","type":"ordinal","scale":{"domain":[1,2,3,4,5,6,7,8,9,10]},"legend":null}}},{"data":{"name":"dark"},"mark":{"type":"rule","stroke":"#555","strokeDash":[1,1]},"encoding":{"y":{"field":"v","type":"quantitative","axis":{"title":null,"orient":"right","values":[0,2000,4000,6000,8000,10000,12000,14000],"labelExpr":"format(datum.value,',')","grid":true,"zindex":1,"labelPadding":3}}}},{"data":{"name":"white"},"mark":{"type":"rule","stroke":"#fff","strokeDash":[1,1]},"encoding":{"y":{"field":"v","type":"quantitative","axis":{"title":null,"orient":"right","values":[0,2000,4000,6000,8000,10000,12000,14000],"labelExpr":"format(datum.value,',')","grid":true,"zindex":1,"labelPadding":3}}}},{"data":{"name":"months"},"mark":{"type":"rule","stroke":"#000"},"encoding":{"x":{"field":"m","type":"nominal","sort":null,"bandPosition":0,"scale":{"paddingInner":0,"paddingOuter":0},"axis":{"title":null,"orient":"top","labelAngle":0,"labelPadding":0}}}}]},
{"data":{"name":"none"},"mark":"point","width":1,"height":1},
{"data":{"name":"none"},"mark":"point","width":1,"height":126,"view":{"fill":"#000"}},
{"width":46,"height":126,"data":{"name":"left"},"transform":[{"filter":"datum.z==4"}],"layer":[{"mark":{"type":"area","orient":"horizontal","interpolate":"monotone","color":"#8E47C8"},"encoding":{"x":{"field":"w","type":"quantitative","stack":null,"axis":null,"scale":{"domain":[43.5,-2.5],"nice":false}},"x2":{"datum":0},"y":{"field":"v","type":"quantitative","axis":null,"scale":{"domain":[0,14000]}}}},{"transform":[{"filter":"datum.v>0&&datum.v%2000==0"}],"mark":{"type":"rule","color":"#6a3fa0"},"encoding":{"x":{"field":"w","type":"quantitative","axis":null},"x2":{"datum":0},"y":{"field":"v","type":"quantitative","axis":null}}},{"mark":{"type":"rule","color":"#5b5650"},"encoding":{"x":{"datum":0,"type":"quantitative","axis":null}}}]},
{"width":300,"height":126,"view":{"fill":"#fff","stroke":"#000"},"title":"ZONE 4","resolve":{"scale":{"x":"independent"}},"layer":[{"data":{"name":"heat"},"transform":[{"filter":"datum.z==4"},{"flatten":["c"]},{"window":[{"op":"row_number","as":"i"}],"groupby":["a"]},{"filter":"datum.c>0"}],"mark":{"type":"rect","strokeWidth":1},"encoding":{"x":{"field":"i","type":"ordinal","axis":null,"scale":{"paddingInner":0,"paddingOuter":0}},"y":{"field":"a","type":"quantitative","scale":{"domain":[0,14000]},"axis":{"title":null,"orient":"right","values":[0,2000,4000,6000,8000,10000,12000,14000],"labelExpr":"format(datum.value,',')","grid":true,"zindex":1,"labelPadding":3}},"y2":{"field":"b"},"color":{"field":"c","type":"ordinal","scale":{"domain":[1,2,3,4,5,6,7,8,9,10]},"legend":null},"stroke":{"field":"c","type":"ordinal","scale":{"domain":[1,2,3,4,5,6,7,8,9,10]},"legend":null}}},{"data":{"name":"dark"},"mark":{"type":"rule","stroke":"#555","strokeDash":[1,1]},"encoding":{"y":{"field":"v","type":"quantitative","axis":{"title":null,"orient":"right","values":[0,2000,4000,6000,8000,10000,12000,14000],"labelExpr":"format(datum.value,',')","grid":true,"zindex":1,"labelPadding":3}}}},{"data":{"name":"white"},"mark":{"type":"rule","stroke":"#fff","strokeDash":[1,1]},"encoding":{"y":{"field":"v","type":"quantitative","axis":{"title":null,"orient":"right","values":[0,2000,4000,6000,8000,10000,12000,14000],"labelExpr":"format(datum.value,',')","grid":true,"zindex":1,"labelPadding":3}}}},{"data":{"name":"months"},"mark":{"type":"rule","stroke":"#000"},"encoding":{"x":{"field":"m","type":"nominal","sort":null,"bandPosition":0,"scale":{"paddingInner":0,"paddingOuter":0},"axis":{"title":null,"orient":"top","labelAngle":0,"labelPadding":0}}}}]},
{"data":{"name":"none"},"mark":"point","width":1,"height":1},
{"data":{"name":"none"},"mark":"point","width":1,"height":126,"view":{"fill":"#000"}},
{"data":{"name":"none"},"mark":"point","width":1,"height":41,"view":{"fill":"#000"}},
{"data":{"name":"none"},"mark":"point","width":1,"height":1},
{"width":300,"height":41,"data":{"name":"under"},"transform":[{"filter":"datum.z==3"}],"layer":[{"mark":{"type":"area","interpolate":"monotone","color":"#8E47C8"},"encoding":{"x":{"field":"m","type":"quantitative","axis":null,"scale":{"domain":[0,12],"nice":false}},"y":{"field":"h","type":"quantitative","stack":null,"axis":null,"scale":{"domain":[0,41],"nice":false}},"y2":{"datum":0}}},{"transform":[{"filter":"datum.m%1==0&&datum.m>0&&datum.m<12"}],"mark":{"type":"rule","color":"#5a3a78"},"encoding":{"x":{"field":"m","type":"quantitative","axis":null},"y":{"field":"h","type":"quantitative","axis":null},"y2":{"datum":0}}}]},
{"data":{"name":"none"},"mark":"point","width":1,"height":1},
{"data":{"name":"none"},"mark":"point","width":1,"height":41,"view":{"fill":"#000"}},
{"data":{"name":"none"},"mark":"point","width":1,"height":1},
{"width":300,"height":41,"data":{"name":"under"},"transform":[{"filter":"datum.z==4"}],"layer":[{"mark":{"type":"area","interpolate":"monotone","color":"#8E47C8"},"encoding":{"x":{"field":"m","type":"quantitative","axis":null,"scale":{"domain":[0,12],"nice":false}},"y":{"field":"h","type":"quantitative","stack":null,"axis":null,"scale":{"domain":[0,41],"nice":false}},"y2":{"datum":0}}},{"transform":[{"filter":"datum.m%1==0&&datum.m>0&&datum.m<12"}],"mark":{"type":"rule","color":"#5a3a78"},"encoding":{"x":{"field":"m","type":"quantitative","axis":null},"y":{"field":"h","type":"quantitative","axis":null},"y2":{"datum":0}}}]},
{"data":{"name":"none"},"mark":"point","width":1,"height":1},
{"data":{"name":"none"},"mark":"point","width":1,"height":41,"view":{"fill":"#000"}},

{"data":{"name":"none"},"mark":"point","width":1,"height":1,"view":{"fill":"#000"}},{"data":{"name":"none"},"mark":"point","width":46,"height":1,"view":{"fill":"#000"}},{"data":{"name":"none"},"mark":"point","width":300,"height":1,"view":{"fill":"#000"}},{"data":{"name":"none"},"mark":"point","width":53,"height":1,"view":{"fill":"#000"}},{"data":{"name":"none"},"mark":"point","width":1,"height":1,"view":{"fill":"#000"}},{"data":{"name":"none"},"mark":"point","width":46,"height":1,"view":{"fill":"#000"}},{"data":{"name":"none"},"mark":"point","width":300,"height":1,"view":{"fill":"#000"}},{"data":{"name":"none"},"mark":"point","width":53,"height":1,"view":{"fill":"#000"}},{"data":{"name":"none"},"mark":"point","width":1,"height":1,"view":{"fill":"#000"}},
{"data":{"name":"none"},"mark":"point","width":1,"height":29,"view":{"fill":"#000"}},{"data":{"name":"none"},"mark":"point","width":1,"height":1},{"data":{"name":"none"},"mark":"point","width":1,"height":1},{"data":{"name":"none"},"mark":"point","width":1,"height":1},{"data":{"name":"none"},"mark":"point","width":1,"height":29,"view":{"fill":"#000"}},{"data":{"name":"none"},"mark":"point","width":1,"height":1},{"data":{"name":"none"},"mark":"point","width":1,"height":1},{"data":{"name":"none"},"mark":"point","width":1,"height":1},{"data":{"name":"none"},"mark":"point","width":1,"height":29,"view":{"fill":"#000"}},
{"data":{"name":"none"},"mark":"point","width":1,"height":126,"view":{"fill":"#000"}},
{"width":46,"height":126,"data":{"name":"left"},"transform":[{"filter":"datum.z==5"}],"layer":[{"mark":{"type":"area","orient":"horizontal","interpolate":"monotone","color":"#8E47C8"},"encoding":{"x":{"field":"w","type":"quantitative","stack":null,"axis":null,"scale":{"domain":[43.5,-2.5],"nice":false}},"x2":{"datum":0},"y":{"field":"v","type":"quantitative","axis":null,"scale":{"domain":[0,14000]}}}},{"transform":[{"filter":"datum.v>0&&datum.v%2000==0"}],"mark":{"type":"rule","color":"#6a3fa0"},"encoding":{"x":{"field":"w","type":"quantitative","axis":null},"x2":{"datum":0},"y":{"field":"v","type":"quantitative","axis":null}}},{"mark":{"type":"rule","color":"#5b5650"},"encoding":{"x":{"datum":0,"type":"quantitative","axis":null}}}]},
{"width":300,"height":126,"view":{"fill":"#fff","stroke":"#000"},"title":"ZONE 5","resolve":{"scale":{"x":"independent"}},"layer":[{"data":{"name":"heat"},"transform":[{"filter":"datum.z==5"},{"flatten":["c"]},{"window":[{"op":"row_number","as":"i"}],"groupby":["a"]},{"filter":"datum.c>0"}],"mark":{"type":"rect","strokeWidth":1},"encoding":{"x":{"field":"i","type":"ordinal","axis":null,"scale":{"paddingInner":0,"paddingOuter":0}},"y":{"field":"a","type":"quantitative","scale":{"domain":[0,14000]},"axis":{"title":null,"orient":"right","values":[0,2000,4000,6000,8000,10000,12000,14000],"labelExpr":"format(datum.value,',')","grid":true,"zindex":1,"labelPadding":3}},"y2":{"field":"b"},"color":{"field":"c","type":"ordinal","scale":{"domain":[1,2,3,4,5,6,7,8,9,10]},"legend":null},"stroke":{"field":"c","type":"ordinal","scale":{"domain":[1,2,3,4,5,6,7,8,9,10]},"legend":null}}},{"data":{"name":"dark"},"mark":{"type":"rule","stroke":"#555","strokeDash":[1,1]},"encoding":{"y":{"field":"v","type":"quantitative","axis":{"title":null,"orient":"right","values":[0,2000,4000,6000,8000,10000,12000,14000],"labelExpr":"format(datum.value,',')","grid":true,"zindex":1,"labelPadding":3}}}},{"data":{"name":"white"},"mark":{"type":"rule","stroke":"#fff","strokeDash":[1,1]},"encoding":{"y":{"field":"v","type":"quantitative","axis":{"title":null,"orient":"right","values":[0,2000,4000,6000,8000,10000,12000,14000],"labelExpr":"format(datum.value,',')","grid":true,"zindex":1,"labelPadding":3}}}},{"data":{"name":"months"},"mark":{"type":"rule","stroke":"#000"},"encoding":{"x":{"field":"m","type":"nominal","sort":null,"bandPosition":0,"scale":{"paddingInner":0,"paddingOuter":0},"axis":{"title":null,"orient":"top","labelAngle":0,"labelPadding":0}}}}]},
{"data":{"name":"none"},"mark":"point","width":1,"height":1},
{"data":{"name":"none"},"mark":"point","width":1,"height":126,"view":{"fill":"#000"}},
{"width":46,"height":126,"data":{"name":"left"},"transform":[{"filter":"datum.z==6"}],"layer":[{"mark":{"type":"area","orient":"horizontal","interpolate":"monotone","color":"#8E47C8"},"encoding":{"x":{"field":"w","type":"quantitative","stack":null,"axis":null,"scale":{"domain":[43.5,-2.5],"nice":false}},"x2":{"datum":0},"y":{"field":"v","type":"quantitative","axis":null,"scale":{"domain":[0,14000]}}}},{"transform":[{"filter":"datum.v>0&&datum.v%2000==0"}],"mark":{"type":"rule","color":"#6a3fa0"},"encoding":{"x":{"field":"w","type":"quantitative","axis":null},"x2":{"datum":0},"y":{"field":"v","type":"quantitative","axis":null}}},{"mark":{"type":"rule","color":"#5b5650"},"encoding":{"x":{"datum":0,"type":"quantitative","axis":null}}}]},
{"width":300,"height":126,"view":{"fill":"#fff","stroke":"#000"},"title":"ALL ZONES","resolve":{"scale":{"x":"independent"}},"layer":[{"data":{"name":"heat"},"transform":[{"filter":"datum.z==6"},{"flatten":["c"]},{"window":[{"op":"row_number","as":"i"}],"groupby":["a"]},{"filter":"datum.c>0"}],"mark":{"type":"rect","strokeWidth":1},"encoding":{"x":{"field":"i","type":"ordinal","axis":null,"scale":{"paddingInner":0,"paddingOuter":0}},"y":{"field":"a","type":"quantitative","scale":{"domain":[0,14000]},"axis":{"title":null,"orient":"right","values":[0,2000,4000,6000,8000,10000,12000,14000],"labelExpr":"format(datum.value,',')","grid":true,"zindex":1,"labelPadding":3}},"y2":{"field":"b"},"color":{"field":"c","type":"ordinal","scale":{"domain":[1,2,3,4,5,6,7,8,9,10]},"legend":null},"stroke":{"field":"c","type":"ordinal","scale":{"domain":[1,2,3,4,5,6,7,8,9,10]},"legend":null}}},{"data":{"name":"dark"},"mark":{"type":"rule","stroke":"#555","strokeDash":[1,1]},"encoding":{"y":{"field":"v","type":"quantitative","axis":{"title":null,"orient":"right","values":[0,2000,4000,6000,8000,10000,12000,14000],"labelExpr":"format(datum.value,',')","grid":true,"zindex":1,"labelPadding":3}}}},{"data":{"name":"white"},"mark":{"type":"rule","stroke":"#fff","strokeDash":[1,1]},"encoding":{"y":{"field":"v","type":"quantitative","axis":{"title":null,"orient":"right","values":[0,2000,4000,6000,8000,10000,12000,14000],"labelExpr":"format(datum.value,',')","grid":true,"zindex":1,"labelPadding":3}}}},{"data":{"name":"months"},"mark":{"type":"rule","stroke":"#000"},"encoding":{"x":{"field":"m","type":"nominal","sort":null,"bandPosition":0,"scale":{"paddingInner":0,"paddingOuter":0},"axis":{"title":null,"orient":"top","labelAngle":0,"labelPadding":0}}}}]},
{"data":{"name":"none"},"mark":"point","width":1,"height":1},
{"data":{"name":"none"},"mark":"point","width":1,"height":126,"view":{"fill":"#000"}},
{"data":{"name":"none"},"mark":"point","width":1,"height":41,"view":{"fill":"#000"}},
{"data":{"name":"none"},"mark":"point","width":1,"height":1},
{"width":300,"height":41,"data":{"name":"under"},"transform":[{"filter":"datum.z==5"}],"layer":[{"mark":{"type":"area","interpolate":"monotone","color":"#8E47C8"},"encoding":{"x":{"field":"m","type":"quantitative","axis":null,"scale":{"domain":[0,12],"nice":false}},"y":{"field":"h","type":"quantitative","stack":null,"axis":null,"scale":{"domain":[0,41],"nice":false}},"y2":{"datum":0}}},{"transform":[{"filter":"datum.m%1==0&&datum.m>0&&datum.m<12"}],"mark":{"type":"rule","color":"#5a3a78"},"encoding":{"x":{"field":"m","type":"quantitative","axis":null},"y":{"field":"h","type":"quantitative","axis":null},"y2":{"datum":0}}}]},
{"data":{"name":"none"},"mark":"point","width":1,"height":1},
{"data":{"name":"none"},"mark":"point","width":1,"height":41,"view":{"fill":"#000"}},
{"data":{"name":"none"},"mark":"point","width":1,"height":1},
{"width":300,"height":41,"data":{"name":"under"},"transform":[{"filter":"datum.z==6"}],"layer":[{"mark":{"type":"area","interpolate":"monotone","color":"#8E47C8"},"encoding":{"x":{"field":"m","type":"quantitative","axis":null,"scale":{"domain":[0,12],"nice":false}},"y":{"field":"h","type":"quantitative","stack":null,"axis":null,"scale":{"domain":[0,41],"nice":false}},"y2":{"datum":0}}},{"transform":[{"filter":"datum.m%1==0&&datum.m>0&&datum.m<12"}],"mark":{"type":"rule","color":"#5a3a78"},"encoding":{"x":{"field":"m","type":"quantitative","axis":null},"y":{"field":"h","type":"quantitative","axis":null},"y2":{"datum":0}}}]},
{"data":{"name":"none"},"mark":"point","width":1,"height":1},
{"data":{"name":"none"},"mark":"point","width":1,"height":41,"view":{"fill":"#000"}},

{"data":{"name":"none"},"mark":"point","width":1,"height":1,"view":{"fill":"#000"}},{"data":{"name":"none"},"mark":"point","width":46,"height":1,"view":{"fill":"#000"}},{"data":{"name":"none"},"mark":"point","width":300,"height":1,"view":{"fill":"#000"}},{"data":{"name":"none"},"mark":"point","width":53,"height":1,"view":{"fill":"#000"}},{"data":{"name":"none"},"mark":"point","width":1,"height":1,"view":{"fill":"#000"}},{"data":{"name":"none"},"mark":"point","width":46,"height":1,"view":{"fill":"#000"}},{"data":{"name":"none"},"mark":"point","width":300,"height":1,"view":{"fill":"#000"}},{"data":{"name":"none"},"mark":"point","width":53,"height":1,"view":{"fill":"#000"}},{"data":{"name":"none"},"mark":"point","width":1,"height":1,"view":{"fill":"#000"}},
{"data":{"name":"none"},"mark":"point","width":1,"height":108,"view":{"fill":"#000"}},
{"data":{"name":"none"},"mark":"point","width":1,"height":1},
{"width":300,"height":108,"encoding":{"x":{"field":"x","type":"quantitative","axis":null,"scale":{"domain":[141,1041],"nice":false,"zero":false}},"y":{"field":"y","type":"quantitative","axis":null,"scale":{"domain":[330,6],"nice":false,"zero":false}}},"layer":[
{"data":{"values":[{"x":288,"u":873,"y":18,"v":318}]},"mark":{"type":"rect","color":"#9CB3CE"},"encoding":{"x2":{"field":"u"},"y2":{"field":"v"}}},
{"data":{"name":"land"},"mark":{"type":"area","orient":"horizontal","color":"#fff"},"encoding":{"x2":{"field":"u"}}},
{"data":{"name":"gulf"},"mark":{"type":"area","orient":"horizontal","color":"#9CB3CE"},"encoding":{"x2":{"field":"u"}}},
{"data":{"name":"stlawrence"},"mark":{"type":"area","orient":"horizontal","color":"#9CB3CE"},"encoding":{"x2":{"field":"u"}}},
{"data":{"name":"borders"},"mark":{"type":"rule","color":"#cfcfcf","strokeWidth":1},"encoding":{"x2":{"field":"u"},"y2":{"field":"v"}}},
{"data":{"name":"lakes"},"mark":{"type":"rule","color":"#9CB3CE","strokeWidth":3,"strokeCap":"round"},"encoding":{"x2":{"field":"u"},"y2":{"field":"v"}}},
{"data":{"name":"zonelines"},"mark":{"type":"rule","color":"#000","strokeWidth":1},"encoding":{"x2":{"field":"u"},"y2":{"field":"v"}}},
{"data":{"name":"names"},"mark":{"type":"text","align":"right","baseline":"middle","font":"Liberation Sans","fontSize":13,"fontWeight":"bold","color":"#000"},"encoding":{"text":{"field":"t"}}}
]},
{"data":{"name":"none"},"mark":"point","width":1,"height":1},{"data":{"name":"none"},"mark":"point","width":1,"height":1},{"data":{"name":"none"},"mark":"point","width":1,"height":1},{"data":{"name":"none"},"mark":"point","width":1,"height":1},{"data":{"name":"none"},"mark":"point","width":1,"height":1},
{"data":{"name":"none"},"mark":"point","width":1,"height":108,"view":{"fill":"#000"}},

{"data":{"name":"none"},"mark":"point","width":1,"height":1,"view":{"fill":"#000"}},{"data":{"name":"none"},"mark":"point","width":46,"height":1,"view":{"fill":"#000"}},{"data":{"name":"none"},"mark":"point","width":300,"height":1,"view":{"fill":"#000"}},{"data":{"name":"none"},"mark":"point","width":53,"height":1,"view":{"fill":"#000"}},{"data":{"name":"none"},"mark":"point","width":1,"height":1,"view":{"fill":"#000"}},{"data":{"name":"none"},"mark":"point","width":46,"height":1,"view":{"fill":"#000"}},{"data":{"name":"none"},"mark":"point","width":300,"height":1,"view":{"fill":"#000"}},{"data":{"name":"none"},"mark":"point","width":53,"height":1,"view":{"fill":"#000"}},{"data":{"name":"none"},"mark":"point","width":1,"height":1,"view":{"fill":"#000"}}
]}
